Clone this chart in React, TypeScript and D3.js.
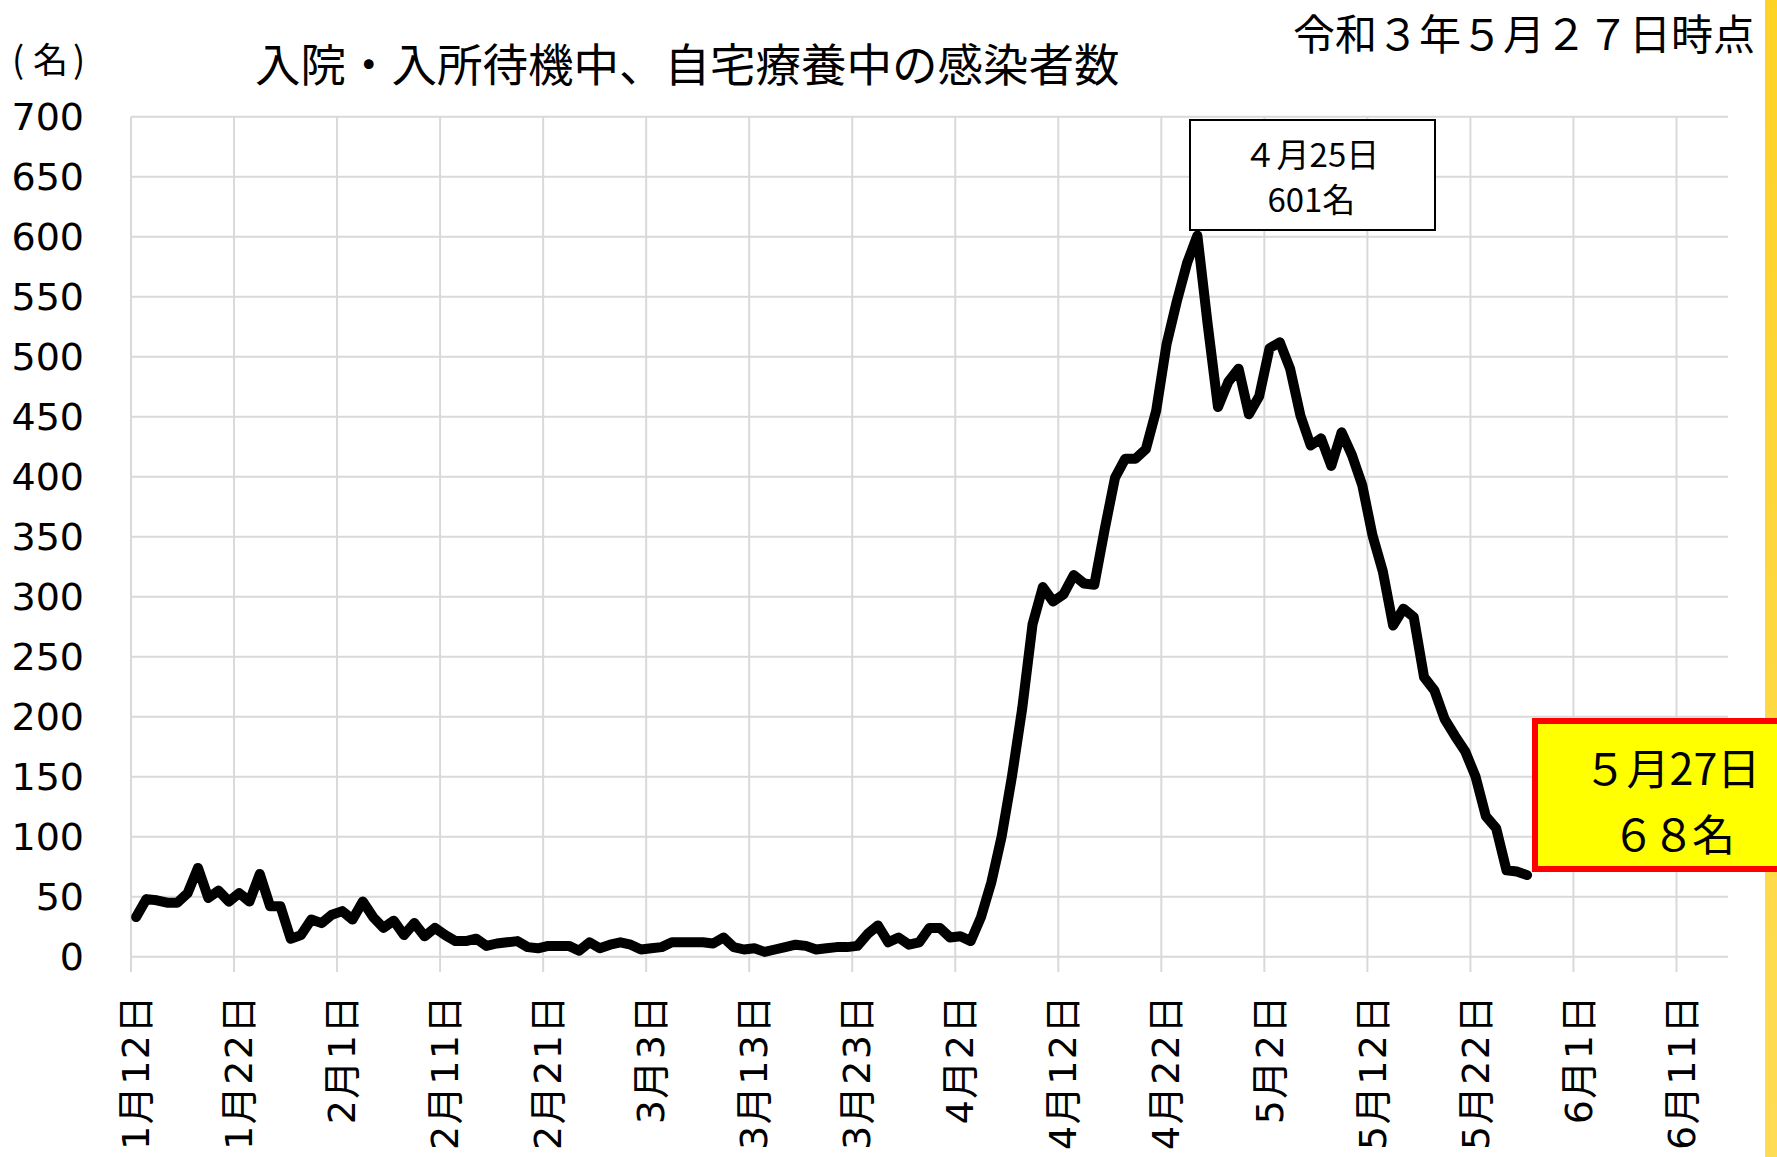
import React from "react";
import * as d3 from "d3";

// ---- data ----
const startDate = new Date(2021, 0, 12); // 1月12日
const axisEndDate = new Date(2021, 5, 16); // exclusive: axis runs through 6月15日

const values: number[] = [
  33, 48, 47, 45, 45, 53, 74, 49, 55, 46,
  53, 46, 69, 42, 42, 15, 18, 31, 28, 35,
  38, 31, 46, 33, 24, 30, 18, 28, 17, 24,
  18, 13, 13, 15, 9, 11, 12, 13, 8, 7,
  9, 9, 9, 5, 12, 7, 10, 12, 10, 6,
  7, 8, 12, 12, 12, 12, 11, 16, 8, 6,
  7, 4, 6, 8, 10, 9, 6, 7, 8, 8,
  9, 19, 26, 12, 16, 10, 12, 24, 24, 16,
  17, 13, 33, 62, 100, 150, 207, 277, 308, 296,
  302, 318, 311, 310, 356, 399, 415, 415, 423, 455,
  510, 546, 578, 601, 527, 458, 479, 490, 452, 467,
  507, 512, 490, 451, 426, 432, 409, 437, 418, 393,
  351, 321, 276, 290, 283, 233, 222, 198, 184, 171,
  150, 117, 107, 72, 71, 68,
];

const tickLabels: string[] = [
  "1月12日", "1月22日", "2月1日", "2月11日", "2月21日", "3月3日",
  "3月13日", "3月23日", "4月2日", "4月12日", "4月22日", "5月2日",
  "5月12日", "5月22日", "6月1日", "6月11日",
];
const tickEvery = 10;

const yTicks: number[] = d3.range(0, 701, 50);

const title = "入院・入所待機中、自宅療養中の感染者数";
const asOf = "令和３年５月２７日時点";
const peakIndex = 103;
const peakLines = ["４月25日", "601名"];
const lastLines = ["５月27日", "６８名"];

const CJK = "'Noto Sans CJK JP', 'Noto Sans', sans-serif";
const NUM = "'DejaVu Sans', 'Noto Sans CJK JP', sans-serif";

export default function App() {
  const W = 1777;
  const H = 1157;
  const days = d3.timeDay.range(startDate, axisEndDate);
  const idx = d3.range(days.length);

  const x = d3.scaleBand<number>().domain(idx).range([131, 1728]).padding(0);
  const y = d3.scaleLinear().domain([0, 700]).range([956.7, 116.7]);
  const bw = x.bandwidth();

  const line = d3
    .line<number>()
    .x((_, i) => (x(i) as number) + bw / 2)
    .y((v) => y(v));

  const tickIdx = tickLabels.map((_, i) => i * tickEvery);

  const peakX = (x(peakIndex) as number) + bw / 2;

  return (
    <svg
      width={W}
      height={H}
      style={{ position: "absolute", left: 0, top: 0, display: "block", background: "#fff" }}
    >
      <defs>
        <linearGradient id="ybar" x1="0" y1="0" x2="0" y2="1">
          <stop offset="0" stopColor="#FFD226" />
          <stop offset="1" stopColor="#FFDC55" />
        </linearGradient>
      </defs>
      <rect x={0} y={0} width={W} height={H} fill="#fff" />
      <rect x={1765} y={0} width={12} height={H} fill="url(#ybar)" />

      {/* horizontal gridlines */}
      {yTicks.map((t) => (
        <line key={"h" + t} x1={131} x2={1728} y1={y(t)} y2={y(t)} stroke="#D9D9D9" strokeWidth={2} />
      ))}
      {/* vertical gridlines / ticks */}
      {tickIdx.map((ti) => (
        <line
          key={"v" + ti}
          x1={x(ti) as number}
          x2={x(ti) as number}
          y1={y(700)}
          y2={972}
          stroke="#D9D9D9"
          strokeWidth={2}
        />
      ))}

      {/* y labels */}
      {yTicks.map((t) => (
        <text
          key={"yl" + t}
          x={84}
          y={y(t)}
          textAnchor="end"
          dominantBaseline="central"
          fontFamily={NUM}
          fontSize={38}
          fill="#000"
        >
          {t}
        </text>
      ))}

      {/* x labels */}
      {tickIdx.map((ti, i) => {
        const cx = (x(ti) as number) + bw / 2;
        return (
          <text
            key={"xl" + ti}
            transform={`translate(${cx},994) rotate(-90)`}
            textAnchor="end"
            dominantBaseline="central"
            fontFamily={NUM}
            fontSize={38}
            letterSpacing={1.5}
            fill="#000"
          >
            {tickLabels[i]}
          </text>
        );
      })}

      {/* data line */}
      <path
        d={line(values) || ""}
        fill="none"
        stroke="#000"
        strokeWidth={10}
        strokeLinejoin="round"
        strokeLinecap="round"
      />

      {/* titles */}
      <text x={12} y={57} dominantBaseline="central" fontFamily={CJK} fontSize={36} fill="#000">(</text>
      <text x={33} y={57} dominantBaseline="central" fontFamily={CJK} fontSize={35} fill="#000">名</text>
      <text x={73} y={57} dominantBaseline="central" fontFamily={CJK} fontSize={36} fill="#000">)</text>
      <text x={255} y={62} dominantBaseline="central" fontFamily={CJK} fontSize={45.5} fill="#000">
        {title}
      </text>
      <text x={1293} y={31} dominantBaseline="central" fontFamily={CJK} fontSize={42} fill="#000">
        {asOf}
      </text>

      {/* peak annotation */}
      <rect x={1190} y={120} width={245} height={110} fill="#fff" stroke="#000" strokeWidth={2} />
      {peakLines.map((s, i) => (
        <text
          key={"pk" + i}
          x={peakX + 114}
          y={153 + i * 45}
          textAnchor="middle"
          dominantBaseline="central"
          fontFamily={CJK}
          fontSize={33}
          fill="#000"
        >
          {s}
        </text>
      ))}

      {/* latest annotation */}
      <rect x={1535} y={721} width={300} height={148} fill="#FFFF00" stroke="#FF0000" strokeWidth={6} />
      {lastLines.map((s, i) => (
        <text
          key={"ls" + i}
          x={1672}
          y={766 + i * 66}
          textAnchor="middle"
          dominantBaseline="central"
          fontFamily={CJK}
          fontSize={43}
          letterSpacing={i === 1 ? -3 : 0}
          fill="#000"
        >
          {s}
        </text>
      ))}
    </svg>
  );
}
